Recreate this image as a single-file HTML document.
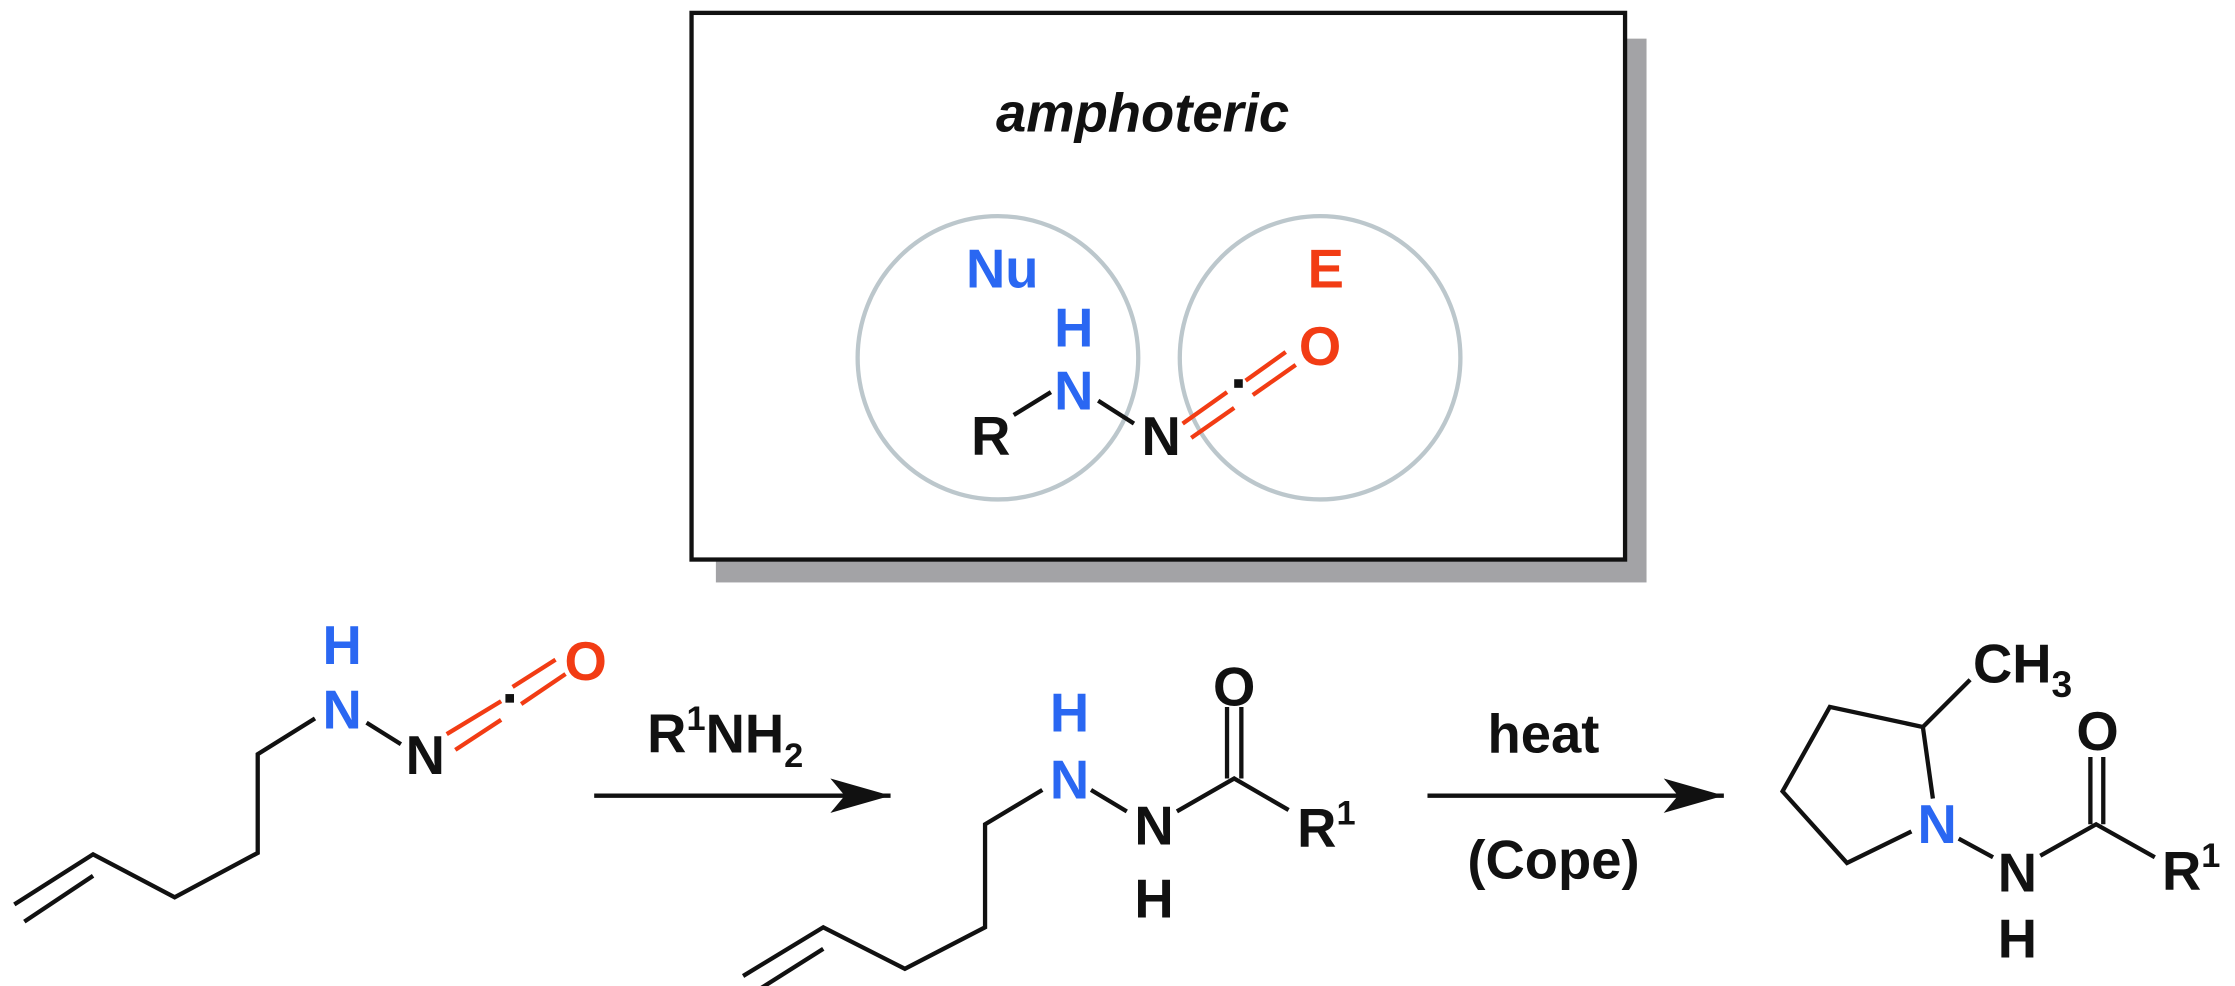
<!DOCTYPE html>
<html><head><meta charset="utf-8"><style>
html,body{margin:0;padding:0;background:#fff;}
svg{display:block;}
text{font-family:"Liberation Sans",Arial,sans-serif;font-weight:bold;}
</style></head><body>
<svg width="2235" height="986" viewBox="0 0 1561 689" preserveAspectRatio="none" xmlns="http://www.w3.org/2000/svg">
<defs>
<marker id="ah" markerWidth="44" markerHeight="24" refX="42" refY="12" orient="auto" markerUnits="userSpaceOnUse">
<path d="M0,0 L42,12 L0,24 L10,12 Z" fill="#111"/>
</marker>
</defs>
<!-- box -->
<rect x="500" y="27" width="650" height="380" fill="#a3a3a6"/>
<rect x="483" y="9" width="652" height="382" fill="#fff" stroke="#111" stroke-width="3"/>
<text x="798" y="92" font-size="38" font-style="italic" text-anchor="middle" fill="#111">amphoteric</text>
<ellipse cx="697" cy="250" rx="98" ry="99" fill="none" stroke="#bcc7cc" stroke-width="3"/>
<ellipse cx="922" cy="250" rx="98" ry="99" fill="none" stroke="#bcc7cc" stroke-width="3"/>
<g font-size="38" text-anchor="middle">
<text x="700" y="201" fill="#2a67f2">Nu</text>
<text x="926" y="201" fill="#f23c14">E</text>
<text x="750" y="242" fill="#2a67f2">H</text>
<text x="750" y="286" fill="#2a67f2">N</text>
<text x="692" y="318" fill="#111">R</text>
<text x="811" y="318" fill="#111">N</text>
<text x="922" y="255" fill="#f23c14">O</text>
</g>
<g stroke="#111" stroke-width="3" fill="none">
<line x1="708" y1="290" x2="734" y2="274"/>
<line x1="767" y1="280" x2="792" y2="296"/>
</g>
<g stroke="#f23c14" stroke-width="3">
<line x1="826" y1="296" x2="857" y2="274"/>
<line x1="832" y1="306" x2="862" y2="285"/>
<line x1="870" y1="266" x2="898" y2="246"/>
<line x1="875" y1="276" x2="905" y2="255"/>
</g>
<rect x="862" y="265" width="6" height="6" fill="#111"/>

<!-- molecule 1 -->
<g stroke="#111" stroke-width="3" fill="none">
<polyline points="10,632 65,597 122,627 180,596 180,527 220,502"/>
<line x1="17" y1="644" x2="65" y2="612"/>
<line x1="256" y1="505" x2="280" y2="520"/>
</g>
<g stroke="#f23c14" stroke-width="3">
<line x1="312" y1="513" x2="350" y2="490"/>
<line x1="318" y1="524" x2="350" y2="503"/>
<line x1="358" y1="480" x2="388" y2="461"/>
<line x1="364" y1="492" x2="395" y2="471"/>
</g>
<rect x="353" y="485" width="6" height="6" fill="#111"/>
<g font-size="38" text-anchor="middle">
<text x="239" y="464" fill="#2a67f2">H</text>
<text x="239" y="509" fill="#2a67f2">N</text>
<text x="297" y="541" fill="#111">N</text>
<text x="409" y="475" fill="#f23c14">O</text>
</g>

<!-- arrow 1 -->
<line x1="415" y1="556" x2="622" y2="556" stroke="#111" stroke-width="3" marker-end="url(#ah)"/>
<text x="452" y="526" font-size="38" fill="#111">R<tspan font-size="24" dy="-16">1</tspan><tspan dy="16">NH</tspan><tspan font-size="24" dy="10">2</tspan></text>

<!-- molecule 2 -->
<g stroke="#111" stroke-width="3" fill="none">
<polyline points="519,682 575,648 632,677 688,648 688,576 728,552"/>
<line x1="526" y1="694" x2="575" y2="663"/>
<line x1="762" y1="552" x2="787" y2="567"/>
<polyline points="822,567 862,544 900,566"/>
<line x1="857" y1="544" x2="857" y2="494"/>
<line x1="867" y1="544" x2="867" y2="494"/>
</g>
<g font-size="38" text-anchor="middle">
<text x="747" y="511" fill="#2a67f2">H</text>
<text x="747" y="558" fill="#2a67f2">N</text>
<text x="806" y="590" fill="#111">N</text>
<text x="806" y="641" fill="#111">H</text>
<text x="862" y="493" fill="#111">O</text>
<text x="906" y="592" fill="#111" text-anchor="start">R<tspan font-size="24" dy="-16">1</tspan></text>
</g>

<!-- arrow 2 -->
<line x1="997" y1="556" x2="1204" y2="556" stroke="#111" stroke-width="3" marker-end="url(#ah)"/>
<text x="1078" y="526" font-size="38" fill="#111" text-anchor="middle">heat</text>
<text x="1085" y="614" font-size="38" fill="#111" text-anchor="middle">(Cope)</text>

<!-- molecule 3 -->
<g stroke="#111" stroke-width="3" fill="none">
<polyline points="1350,558 1343,508 1278,494 1245,553 1290,603 1335,581"/>
<line x1="1343" y1="508" x2="1376" y2="475"/>
<line x1="1368" y1="586" x2="1392" y2="599"/>
<polyline points="1425,598 1464,576 1505,599"/>
<line x1="1460" y1="576" x2="1460" y2="529"/>
<line x1="1469" y1="576" x2="1469" y2="529"/>
</g>
<g font-size="38" text-anchor="middle">
<text x="1353" y="589" fill="#2a67f2">N</text>
<text x="1409" y="623" fill="#111">N</text>
<text x="1409" y="669" fill="#111">H</text>
<text x="1465" y="524" fill="#111">O</text>
<text x="1510" y="622" fill="#111" text-anchor="start">R<tspan font-size="24" dy="-16">1</tspan></text>
<text x="1378" y="477" fill="#111" text-anchor="start">CH<tspan font-size="26" dy="10">3</tspan></text>
</g>
</svg>
</body></html>
